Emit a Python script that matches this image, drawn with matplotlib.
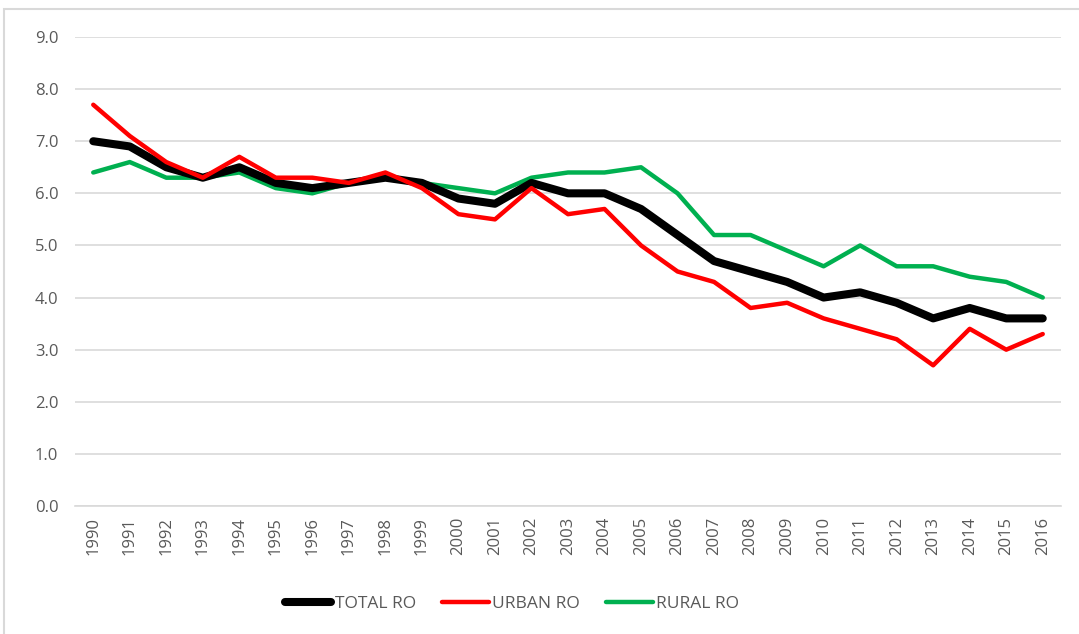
import matplotlib.pyplot as plt
from matplotlib.patches import Rectangle

years = [str(y) for y in range(1990, 2017)]
total_ro = [7.0, 6.9, 6.5, 6.3, 6.5, 6.2, 6.1, 6.2, 6.3, 6.2, 5.9, 5.8, 6.2, 6.0, 6.0,
            5.7, 5.2, 4.7, 4.5, 4.3, 4.0, 4.1, 3.9, 3.6, 3.8, 3.6, 3.6]
urban_ro = [7.7, 7.1, 6.6, 6.3, 6.7, 6.3, 6.3, 6.2, 6.4, 6.1, 5.6, 5.5, 6.1, 5.6, 5.7,
            5.0, 4.5, 4.3, 3.8, 3.9, 3.6, 3.4, 3.2, 2.7, 3.4, 3.0, 3.3]
rural_ro = [6.4, 6.6, 6.3, 6.3, 6.4, 6.1, 6.0, 6.2, 6.3, 6.2, 6.1, 6.0, 6.3, 6.4, 6.4,
            6.5, 6.0, 5.2, 5.2, 4.9, 4.6, 5.0, 4.6, 4.6, 4.4, 4.3, 4.0]
yticks = [0.0, 1.0, 2.0, 3.0, 4.0, 5.0, 6.0, 7.0, 8.0, 9.0]

plt.rcParams['font.family'] = ['Open Sans', 'DejaVu Sans']

fig = plt.figure(figsize=(10.79, 6.34), dpi=100)
ax = fig.add_axes([75 / 1079, 1 - 506 / 634, (1061 - 75) / 1079, (506 - 37) / 634])

x = range(len(years))
ax.plot(x, total_ro, color='black', lw=5.8, solid_capstyle='round', label='TOTAL RO', zorder=3)
ax.plot(x, urban_ro, color='#ff0000', lw=3.2, solid_capstyle='round', label='URBAN RO', zorder=4)
ax.plot(x, rural_ro, color='#00b050', lw=3.2, solid_capstyle='round', label='RURAL RO', zorder=2)

ax.set_xlim(-0.5, len(years) - 0.5)
ax.set_ylim(0, 9)
ax.set_yticks(yticks)
ax.set_yticklabels([f'{v:.1f}' for v in yticks])
ax.set_xticks(list(x))
ax.set_xticklabels(years, rotation=90)
ax.tick_params(length=0, labelsize=12, colors='#595959')
ax.tick_params(axis='y', pad=12)
ax.tick_params(axis='x', pad=8)
ax.grid(axis='y', color='#d9d9d9', lw=1.2)
ax.set_axisbelow(True)
for s in ['top', 'right', 'left']:
    ax.spines[s].set_visible(False)
ax.spines['bottom'].set_color('#d9d9d9')
ax.spines['bottom'].set_linewidth(1.2)

leg = ax.legend(loc='center', bbox_to_anchor=(437 / 986, -(604 - 506) / 469), ncol=3,
                frameon=False, fontsize=12.5, handlelength=2.7, handletextpad=0.2,
                columnspacing=1.5)
for t in leg.get_texts():
    t.set_color('#595959')

# outer chart border
fig.patches.append(Rectangle((4 / 1079, -0.01), 1.0, 1 - 9 / 634 + 0.01,
                             transform=fig.transFigure, fill=False,
                             edgecolor='#d9d9d9', lw=1.5))

plt.savefig('out.png', dpi=100)
